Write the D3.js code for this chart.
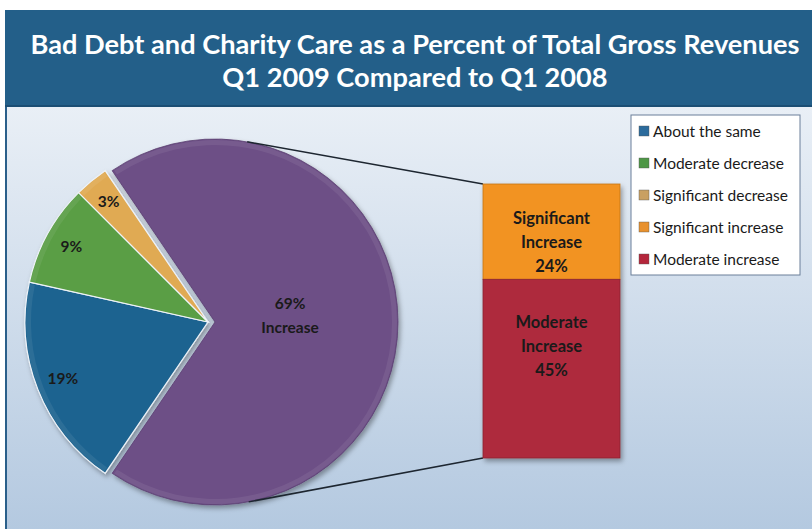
<!DOCTYPE html>
<html>
<head>
<meta charset="utf-8">
<script src="https://cdn.jsdelivr.net/npm/d3@7"></script>
<style>
  body { margin: 0; background: #fff; }
  svg { display: block; font-family: Lato, "Open Sans", sans-serif; }
</style>
</head>
<body>
<svg id="chart" width="812" height="529"></svg>
<script>
const titleLines = ["Bad Debt and Charity Care as a Percent of Total Gross Revenues", "Q1 2009 Compared to Q1 2008"];
const categories = ["About the same", "Moderate decrease", "Significant decrease", "Significant increase", "Moderate increase"];
const values = [19, 9, 3, 24, 45];
const colors = ["#1f6490", "#5a9e45", "#e0aa52", "#f29322", "#ae2a3d"];
const legendColors = ["#2b6b9c", "#4e9746", "#c9a062", "#e8912e", "#b4263b"];
const barLabels = [["Significant", "Increase", "24%"], ["Moderate", "Increase", "45%"]];

const width = 812, height = 529;
const svg = d3.select("#chart");
const defs = svg.append("defs");

const bg = defs.append("linearGradient").attr("id", "bg").attr("x1", 0).attr("y1", 0).attr("x2", 0).attr("y2", 1);
bg.append("stop").attr("offset", "0%").attr("stop-color", "#e9eff6");
bg.append("stop").attr("offset", "100%").attr("stop-color", "#b4c9e0");

const shadow = defs.append("filter").attr("id", "shadow").attr("x", "-10%").attr("y", "-10%").attr("width", "130%").attr("height", "130%");
shadow.append("feDropShadow").attr("dx", 2).attr("dy", 3).attr("stdDeviation", 2.5).attr("flood-color", "#000").attr("flood-opacity", 0.35);

// background + title bar
svg.append("rect").attr("x", 5).attr("y", 107).attr("width", width - 5).attr("height", height - 107).attr("fill", "url(#bg)");
svg.append("rect").attr("x", 5).attr("y", 107).attr("width", 2).attr("height", height - 107).attr("fill", "#2a5f8a");
svg.append("rect").attr("x", 5).attr("y", 10).attr("width", width - 5).attr("height", 97).attr("fill", "#235f89");
svg.append("rect").attr("x", 5).attr("y", 105).attr("width", width - 5).attr("height", 2).attr("fill", "#1b4e74");

svg.append("g").selectAll("text")
  .data(titleLines)
  .join("text")
    .attr("x", 415)
    .attr("y", (d, i) => 54 + i * 33)
    .attr("text-anchor", "middle")
    .attr("fill", "#fff")
    .attr("font-weight", "bold")
    .attr("font-size", 27.2)
    .text(d => d);

// main pie: combined "Increase" slice + the three others
const increase = d3.sum(values.slice(3));
const pieData = [{ name: "Increase", value: increase, color: "#6d4f86" }]
  .concat(categories.slice(0, 3).map((c, i) => ({ name: c, value: values[i], color: colors[i] })));
const total = d3.sum(pieData, d => d.value);

const r = 183;
const cx = 208, cy = 322, explode = 7;
const start = Math.PI / 2 - (increase / total) * Math.PI;
const pie = d3.pie().sort(null).value(d => d.value).startAngle(start).endAngle(start + 2 * Math.PI);
const arcs = pie(pieData);
const arc = d3.arc().innerRadius(0).outerRadius(r);
const labelArc = d3.arc().innerRadius(156).outerRadius(156);
const mainLabelArc = d3.arc().innerRadius(0).outerRadius(150);

const pc = { x: cx + explode, y: cy }; // exploded center of purple slice

const pieG = svg.append("g").attr("filter", "url(#shadow)");
pieG.selectAll("path")
  .data(arcs)
  .join("path")
    .attr("transform", (d, i) => i === 0 ? `translate(${pc.x},${pc.y})` : `translate(${cx},${cy})`)
    .attr("d", arc)
    .attr("fill", d => d.data.color)
    .attr("stroke", (d, i) => i === 0 ? "#5a3f70" : "#eef3f8")
    .attr("stroke-width", (d, i) => i === 0 ? 0.8 : 1.2);

// rim highlight
const rim = d3.arc().innerRadius(r - 6).outerRadius(r - 1);
svg.append("g").selectAll("path")
  .data(arcs)
  .join("path")
    .attr("transform", (d, i) => i === 0 ? `translate(${pc.x},${pc.y})` : `translate(${cx},${cy})`)
    .attr("d", d => rim({ startAngle: d.startAngle + 0.01, endAngle: d.endAngle - 0.01 }))
    .attr("fill", "#fff")
    .attr("opacity", 0.07);

// stacked bar for the increase breakdown
const barX = 483, barW = 137;
const y = d3.scaleLinear().domain([0, increase]).range([184, 458]);
const barData = [
  { name: categories[3], value: values[3], y0: 0, color: colors[3], lines: barLabels[0] },
  { name: categories[4], value: values[4], y0: values[3], color: colors[4], lines: barLabels[1] }
];

// connector lines tangent to the purple slice
const corners = [[barX, y(0)], [barX, y(increase)]];
const lines = corners.map(([px, py], i) => {
  const dx = px - pc.x, dy = py - pc.y;
  const d = Math.hypot(dx, dy);
  const base = Math.atan2(dy, dx);
  const off = Math.acos(r / d) * (i === 0 ? -1 : 1);
  const a = base + off;
  return [[pc.x + r * Math.cos(a), pc.y + r * Math.sin(a)], [px, py]];
});
svg.append("g").selectAll("line")
  .data(lines)
  .join("line")
    .attr("x1", d => d[0][0]).attr("y1", d => d[0][1])
    .attr("x2", d => d[1][0]).attr("y2", d => d[1][1])
    .attr("stroke", "#1d2630")
    .attr("stroke-width", 1.5);

const barG = svg.append("g").attr("filter", "url(#shadow)");
barG.selectAll("rect")
  .data(barData)
  .join("rect")
    .attr("x", barX)
    .attr("y", d => y(d.y0))
    .attr("width", barW)
    .attr("height", d => y(d.y0 + d.value) - y(d.y0))
    .attr("fill", d => d.color)
    .attr("stroke", d => d3.color(d.color).darker(0.6))
    .attr("stroke-width", 0.8);

const barText = svg.append("g")
  .attr("font-weight", "bold")
  .attr("font-size", 16.5)
  .attr("fill", "#1a1a1a")
  .attr("text-anchor", "middle");
barData.forEach(d => {
  const mid = (y(d.y0) + y(d.y0 + d.value)) / 2;
  const top = d.y0 === 0 ? mid - 8 : mid - 41;
  barText.append("g").selectAll("text")
    .data(d.lines)
    .join("text")
      .attr("x", barX + barW / 2)
      .attr("y", (t, i) => top + i * 24)
      .text(t => t);
});

// pie labels
const pieText = svg.append("g")
  .attr("font-weight", "bold")
  .attr("font-size", 15.5)
  .attr("fill", "#1a1a1a")
  .attr("text-anchor", "middle");
arcs.forEach((d, i) => {
  if (i === 0) {
    const [lx, ly] = mainLabelArc.centroid(d);
    pieText.append("text").attr("x", pc.x + lx).attr("y", pc.y + ly - 13).text(d3.format(".0%")(d.value / total));
    pieText.append("text").attr("x", pc.x + lx).attr("y", pc.y + ly + 11).text(d.data.name);
  } else {
    const [lx, ly] = labelArc.centroid(d);
    pieText.append("text").attr("x", cx + lx).attr("y", cy + ly + 5).text(d3.format(".0%")(d.value / total));
  }
});

// legend
const legend = svg.append("g").attr("transform", "translate(631,115)");
legend.append("rect").attr("width", 169).attr("height", 160).attr("fill", "#fff").attr("stroke", "#6a7f99").attr("stroke-width", 1);
const item = legend.selectAll("g.item")
  .data(categories)
  .join("g")
    .attr("class", "item")
    .attr("transform", (d, i) => `translate(8,${16 + i * 32})`);
item.append("rect").attr("x", 0).attr("y", -5).attr("width", 10).attr("height", 10)
  .attr("fill", (d, i) => legendColors[i]).attr("stroke", "#555").attr("stroke-width", 0.4);
item.append("text").attr("x", 14).attr("y", 5.5).attr("font-size", 15.5).attr("fill", "#1a1a1a").text(d => d);
</script>
</body>
</html>
